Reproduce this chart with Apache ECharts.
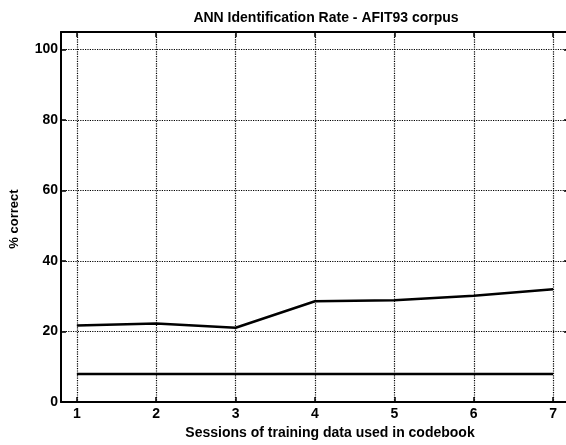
<!doctype html>
<html lang="en">
<head>
    <meta charset="UTF-8">
    <title>ANN Identification Rate</title>
    <script src="https://cdn.jsdelivr.net/npm/echarts@6/dist/echarts.min.js"></script>
    <style>
        body { margin: 0; background: #fff; overflow: hidden; }
        #chart { width: 575px; height: 445px; }
    </style>
</head>
<body>
<div id="chart"></div>
<script>
    // sessions of training data (x)
    var sessions = [1, 2, 3, 4, 5, 6, 7];
    // % correct, upper curve
    var upperRate = [21.7, 22.3, 21.1, 28.6, 28.9, 30.2, 32.0];
    // % correct, lower flat curve
    var lowerRate = [8, 8, 8, 8, 8, 8, 8];
    var yTicks = [0, 20, 40, 60, 80, 100];

    var font = '"Liberation Sans", Arial, sans-serif';

    function pairs(xs, ys) {
        return xs.map(function (x, i) { return [x, ys[i]]; });
    }

    var myChart = echarts.init(document.getElementById('chart'));

    var dotted = { show: true, lineStyle: { color: '#000', type: 'dotted', width: 1.2 } };
    var boxLine = { show: true, onZero: false, lineStyle: { color: '#000', width: 2 } };

    myChart.setOption({
        animation: false,
        title: {
            text: 'ANN Identification Rate - AFIT93 corpus',
            left: 321, top: 6, textAlign: 'center',
            textStyle: { fontFamily: font, fontSize: 14, fontWeight: 'bold', color: '#000' }
        },
        grid: { left: 60, top: 32, right: 6, bottom: 41 },
        xAxis: [{
            type: 'value',
            min: 0.8, max: 7.2,
            name: 'Sessions of training data used in codebook',
            nameLocation: 'middle', nameGap: 21,
            nameTextStyle: { fontFamily: font, fontSize: 14, fontWeight: 'bold', color: '#000', padding: [0, 0, 0, 30] },
            axisLine: boxLine,
            axisTick: { show: true, inside: true, length: 5, customValues: sessions, lineStyle: { color: '#000', width: 1.5 } },
            axisLabel: { customValues: sessions, fontFamily: font, fontSize: 14, fontWeight: 'bold', color: '#000', margin: 5 },
            splitLine: dotted
        }, {
            type: 'value', position: 'top',
            min: 0.8, max: 7.2,
            axisLine: boxLine,
            axisTick: { show: true, inside: true, length: 5, customValues: sessions, lineStyle: { color: '#000', width: 1.5 } },
            axisLabel: { show: false },
            splitLine: { show: false }
        }],
        yAxis: [{
            type: 'value',
            min: 0, max: 105,
            name: '% correct',
            nameLocation: 'middle', nameGap: 40,
            nameTextStyle: { fontFamily: font, fontSize: 13, fontWeight: 'bold', color: '#000', padding: [0, 4, 0, 0] },
            axisLine: boxLine,
            axisTick: { show: true, inside: true, length: 5, customValues: yTicks, lineStyle: { color: '#000', width: 1.5 } },
            axisLabel: { customValues: yTicks, fontFamily: font, fontSize: 14, fontWeight: 'bold', color: '#000', margin: 3 },
            splitLine: dotted
        }, {
            type: 'value', position: 'right',
            min: 0, max: 105,
            axisLine: boxLine,
            axisTick: { show: true, inside: true, length: 5, customValues: yTicks, lineStyle: { color: '#000', width: 1.5 } },
            axisLabel: { show: false },
            splitLine: { show: false }
        }],
        series: [{
            type: 'line',
            data: pairs(sessions, upperRate),
            showSymbol: false,
            lineStyle: { color: '#000', width: 2.5 }
        }, {
            type: 'line',
            data: pairs(sessions, lowerRate),
            showSymbol: false,
            lineStyle: { color: '#000', width: 2.5 }
        }]
    });
</script>
</body>
</html>
